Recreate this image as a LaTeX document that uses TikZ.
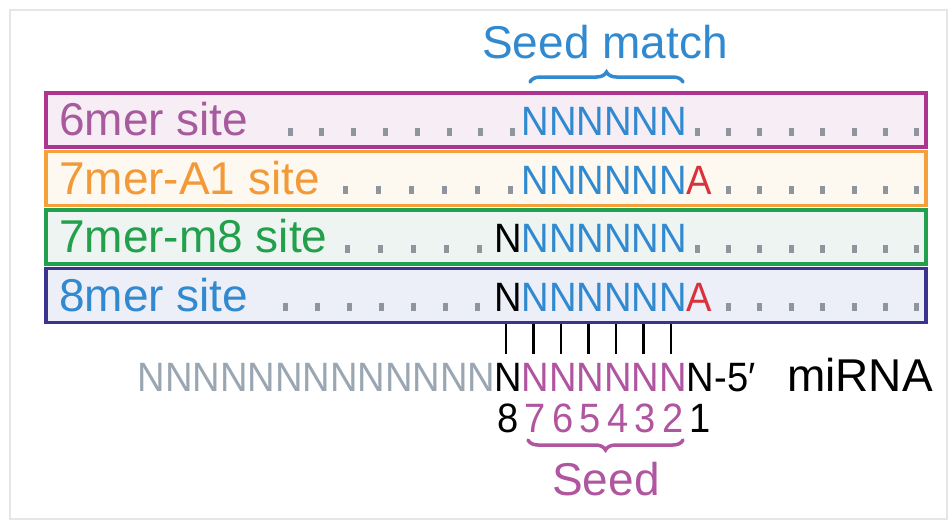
\documentclass[tikz,border=0pt]{standalone}
\usepackage{fontspec}
\setmainfont{Liberation Sans}
\newfontfamily\seqfont[FakeStretch=0.93]{Liberation Sans}
\usetikzlibrary{decorations.pathreplacing}
\definecolor{framegray}{HTML}{E6E6E6}
\definecolor{bord6}{HTML}{AC3592}
\definecolor{fill6}{HTML}{F7EEF5}
\definecolor{bord7a}{HTML}{F5A03A}
\definecolor{fill7a}{HTML}{FEF9F0}
\definecolor{bord7m}{HTML}{22A04E}
\definecolor{fill7m}{HTML}{EEF4F2}
\definecolor{bord8}{HTML}{3A3390}
\definecolor{fill8}{HTML}{ECEFF7}
\definecolor{lab6}{HTML}{A85A9E}
\definecolor{lab7a}{HTML}{F29A38}
\definecolor{lab7m}{HTML}{23A04C}
\definecolor{nblue}{HTML}{3189CF}
\definecolor{ared}{HTML}{D8323C}
\definecolor{seedmag}{HTML}{B0559F}
\definecolor{ngray}{HTML}{9AA6B2}
\definecolor{dotgray}{HTML}{8E959C}
\begin{document}
\begin{tikzpicture}[x=1pt,y=-1pt,
  lab/.style={anchor=base west, inner sep=0pt, font=\fontsize{46}{50}\selectfont},
  seq/.style={anchor=base west, inner sep=0pt, font=\seqfont\fontsize{41}{45}\selectfont},
  sitebox/.style={line width=3.5pt},
  tickline/.style={line width=2.5pt, black},
  br/.style={decorate, decoration={brace, amplitude=10pt}, line width=3.5pt, line cap=round},
]
\useasboundingbox (0,0) rectangle (952,522);
\draw[framegray, line width=2pt] (10,10) rectangle (947,519);

% boxes
\draw[sitebox, draw=bord6, fill=fill6] (46,93) rectangle (926,147);
\draw[sitebox, draw=bord7a, fill=fill7a] (46,151.5) rectangle (926,205.5);
\draw[sitebox, draw=bord7m, fill=fill7m] (46,210) rectangle (926,264);
\draw[sitebox, draw=bord8, fill=fill8] (46,268.5) rectangle (926,322.5);

% labels
\node[lab, text=lab6] (l6) at (59,135.5) {6mer site};
\node[lab, text=lab7a] (l7a) at (59,194) {7mer-A1 site};
\node[lab, text=lab7m] (l7m) at (59,252.5) {7mer-m8 site};
\node[lab, text=nblue] (l8) at (59,311) {8mer site};

% dots
\foreach \x in {290,321.8,353.6,385.4,417.2,449,480.8,512.6, 697,728.4,759.8,791.2,822.6,854,885.4,916.8}
  \fill[dotgray] (\x-2.5,135.5) rectangle (\x+2.5,127.5);
\foreach \x in {345,378,411,444,477,510, 728.4,759.8,791.2,822.6,854,885.4,916.8}
  \fill[dotgray] (\x-2.5,194) rectangle (\x+2.5,186);
\foreach \x in {347,380,413,446,479, 697,728.4,759.8,791.2,822.6,854,885.4,916.8}
  \fill[dotgray] (\x-2.5,252.5) rectangle (\x+2.5,244.5);
\foreach \x in {285,317,349,381,413,445,477, 728.4,759.8,791.2,822.6,854,885.4,916.8}
  \fill[dotgray] (\x-2.5,311) rectangle (\x+2.5,303);

% site sequences
\node[seq, text=nblue] (s6) at (521.5,135.5) {NNNNNN};
\node[seq] (s7a) at (521.5,194) {\color{nblue}NNNNNN\color{ared}A};
\node[seq] (s7m) at (494,252.5) {N\color{nblue}NNNNNN};
\node[seq] (s8) at (494,311) {N\color{nblue}NNNNNN\color{ared}A};

% seed match
\node[lab, anchor=base, text=nblue] (seedmatch) at (605,58) {Seed match};
\coordinate (smL) at (530,82);
\coordinate (smR) at (683,82);
\draw[br, nblue] (smL) -- (smR);

% pairing ticks
\foreach \i in {0,...,6} {
  \coordinate (t\i) at (505.8+\i*27.53,324);
  \coordinate (b\i) at (505.8+\i*27.53,354);
  \draw[tickline] (t\i) -- (b\i);
}

% miRNA
\node[seq, text=ngray] (gray) at (137.3,391) {NNNNNNNNNNNNN};
\node[seq] (n8) at (494,391) {N};
\node[seq, text=seedmag] (seedN) at (521.5,391) {NNNNNN};
\node[seq] (n1) at (686.7,391) {N};
\node[seq] (five) at (714.2,391) {-5′};
\node[lab] (mirna) at (787,391) {miRNA};

% position numbers
\node[seq, anchor=base] (d8) at (507.8,432) {8};
\foreach \d [count=\i from 1] in {7,6,5,4,3,2}
  \node[seq, anchor=base, text=seedmag] (d\d) at (507.8+\i*27.53,432) {\d};
\node[seq, anchor=base] (d1) at (700.5,432) {1};

% seed
\coordinate (sdR) at (683,440);
\coordinate (sdL) at (528,440);
\draw[br, seedmag] (sdR) -- (sdL);
\node[lab, anchor=base, text=seedmag] (seed) at (606,495) {Seed};
\end{tikzpicture}
\end{document}
